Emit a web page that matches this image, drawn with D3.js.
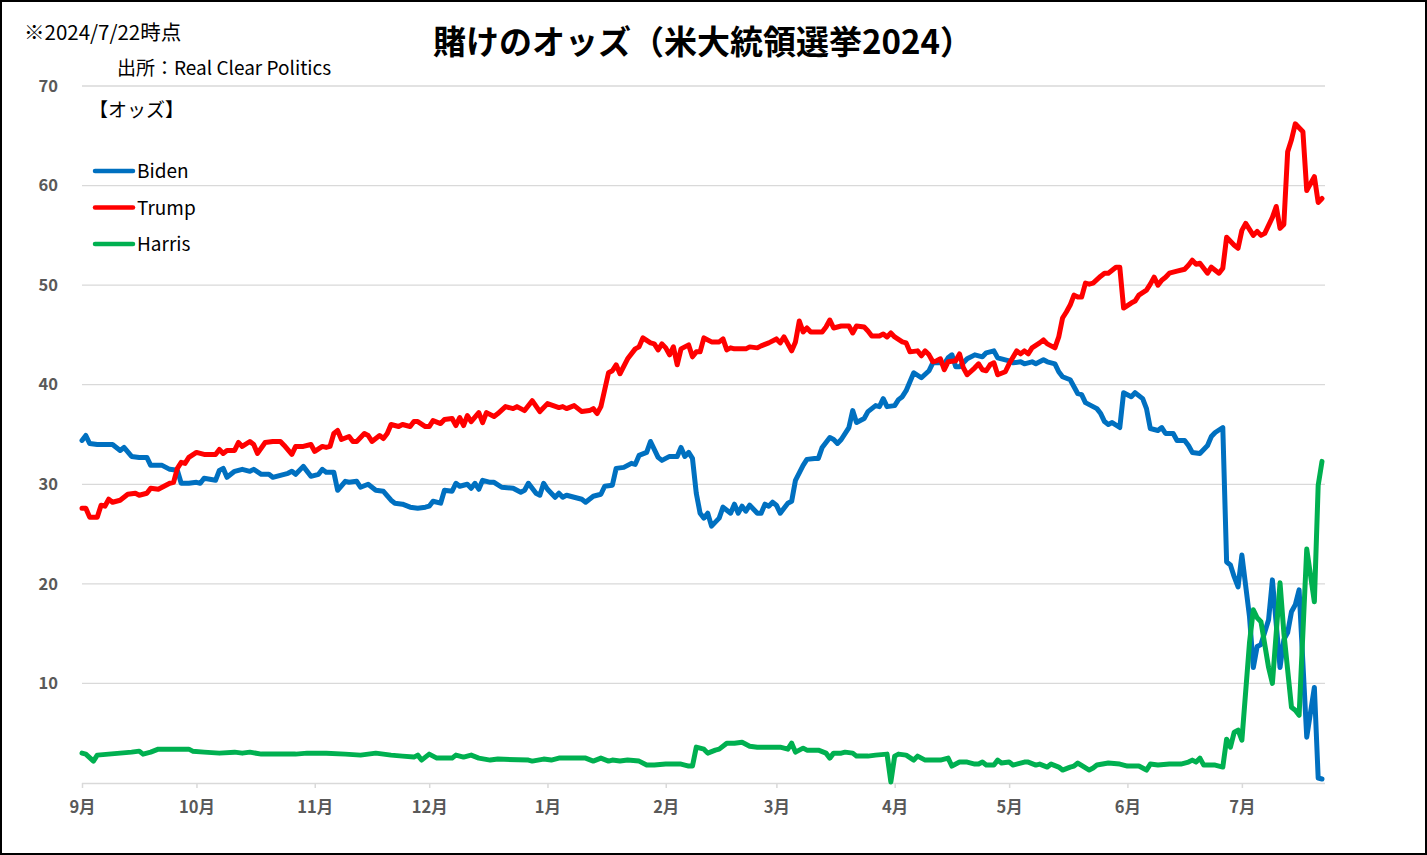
<!DOCTYPE html>
<html><head><meta charset="utf-8">
<script src="https://cdn.jsdelivr.net/npm/d3@7"></script>
<style>
html,body{margin:0;padding:0;background:#fff;}
svg{display:block;}
text{font-family:"Noto Sans CJK JP","Noto Sans",sans-serif;}
</style></head>
<body>
<svg id="chart" width="1427" height="855"></svg>
<script>
// ---- data ----
const seriesNames = ["Biden", "Trump", "Harris"];
const seriesColors = ["#0070C0", "#FF0000", "#00B050"];
const monthTicks = ["2023-09-01","2023-10-01","2023-11-01","2023-12-01","2024-01-01","2024-02-01","2024-03-01","2024-04-01","2024-05-01","2024-06-01","2024-07-01"];
const yTicks = [10, 20, 30, 40, 50, 60, 70];

const bidenDates = ["9/1","9/2","9/3","9/5","9/9","9/11","9/12","9/14","9/16","9/18","9/19","9/22","9/24","9/26","9/27","9/29",
"10/1","10/2","10/3","10/6","10/7","10/8","10/9","10/11","10/13","10/15","10/16","10/18","10/20","10/21","10/25","10/26","10/27","10/29","10/31",
"11/2","11/3","11/4","11/6","11/7","11/9","11/10","11/12","11/13","11/15","11/17","11/19","11/21","11/22","11/24","11/26","11/28","11/30",
"12/1","12/2","12/4","12/5","12/7","12/8","12/9","12/11","12/12","12/13","12/14","12/15","12/17","12/18","12/20","12/23","12/25","12/26","12/27","12/29","12/30","12/31",
"1/1","1/3","1/4","1/5","1/6","1/8","1/10","1/11","1/13","1/15","1/16","1/18","1/19","1/21","1/23","1/24","1/25","1/27","1/28","1/30","1/31",
"2/2","2/4","2/5","2/6","2/7","2/8","2/9","2/10","2/11","2/12","2/13","2/15","2/16","2/18","2/19","2/20","2/21","2/22","2/23","2/25","2/26","2/27","2/28","2/29",
"3/1","3/2","3/4","3/5","3/6","3/8","3/9","3/11","3/12","3/13","3/15","3/16","3/17","3/18","3/20","3/21","3/22","3/24","3/25","3/26","3/27","3/28","3/29","3/30",
"4/1","4/2","4/3","4/4","4/5","4/6","4/8","4/10","4/11","4/13","4/14","4/15","4/16","4/17","4/18","4/20","4/22","4/24","4/25","4/27","4/28","4/29",
"5/1","5/2","5/4","5/5","5/7","5/8","5/10","5/11","5/13","5/14","5/15","5/17","5/18","5/19","5/20","5/21","5/22","5/24","5/25","5/26","5/27","5/28","5/30","5/31",
"6/2","6/3","6/5","6/6","6/7","6/9","6/10","6/11","6/13","6/14","6/16","6/17","6/18","6/20","6/22","6/23","6/24","6/26","6/27","6/28","6/29","6/30",
"7/1","7/3","7/4","7/5","7/6","7/8","7/9","7/11","7/12","7/13","7/14","7/15","7/16","7/18","7/20","7/21","7/22"];
const bidenValues = [34.4,34.9,34.1,34.0,34.0,33.4,33.7,32.8,32.7,32.7,31.9,31.9,31.5,31.4,30.1,30.1,
30.2,30.1,30.6,30.4,31.4,31.6,30.7,31.3,31.5,31.3,31.5,31.0,31.0,30.7,31.1,31.3,31.0,31.8,30.8,
31.0,31.5,31.2,31.2,29.4,30.3,30.2,30.3,29.7,30.0,29.4,29.3,28.4,28.1,28.0,27.7,27.6,27.7,
27.8,28.3,28.1,29.4,29.3,30.1,29.8,30.0,29.6,30.1,29.5,30.4,30.2,30.2,29.7,29.6,29.2,29.4,30.1,29.1,28.9,30.1,
29.5,28.7,29.1,28.7,28.9,28.7,28.5,28.2,28.8,29.0,29.8,29.9,31.6,31.7,32.1,32.0,32.9,33.2,34.3,32.7,32.4,
32.8,32.8,33.7,32.8,33.2,32.6,29.1,27.1,26.6,27.1,25.8,26.6,27.7,27.1,28.0,27.1,27.8,27.3,27.9,27.1,27.1,28.0,27.8,28.2,
27.9,27.1,28.1,28.3,30.4,31.9,32.5,32.6,32.6,33.7,34.7,34.5,34.1,34.5,35.7,37.4,36.2,36.6,37.3,37.6,37.9,37.8,38.6,37.8,
37.9,38.5,38.8,39.4,40.3,41.2,40.7,41.4,42.2,42.2,42.1,42.7,43.0,41.8,41.8,42.6,43.0,42.8,43.2,43.4,42.7,42.6,
42.4,42.2,42.3,42.1,42.3,42.1,42.5,42.3,42.1,41.3,40.8,40.5,39.8,39.1,39.0,38.2,38.0,37.6,37.1,36.3,36.0,36.2,35.7,39.2,
38.8,39.2,38.6,37.6,35.6,35.4,35.7,35.1,35.1,34.4,34.4,33.9,33.2,33.1,33.9,34.8,35.2,35.7,22.2,21.9,20.7,19.7,
22.9,16.7,11.6,13.7,13.9,16.4,20.4,11.6,14.4,15.1,17.2,17.9,19.4,4.6,9.6,0.5,0.4];

const trumpDates = ["9/1","9/2","9/3","9/5","9/6","9/7","9/8","9/9","9/11","9/13","9/15","9/16","9/18","9/19","9/21","9/22","9/24","9/25","9/26","9/27","9/28","9/29",
"10/1","10/3","10/6","10/7","10/8","10/9","10/11","10/12","10/13","10/15","10/16","10/17","10/19","10/21","10/23","10/24","10/26","10/27","10/29","10/31",
"11/1","11/3","11/4","11/5","11/6","11/7","11/8","11/10","11/11","11/12","11/14","11/15","11/16","11/18","11/19","11/20","11/21","11/23","11/24","11/26","11/27","11/28","11/30",
"12/1","12/2","12/4","12/5","12/7","12/8","12/9","12/10","12/11","12/12","12/14","12/15","12/16","12/18","12/19","12/21","12/23","12/24","12/26","12/28","12/30",
"1/1","1/4","1/5","1/6","1/8","1/10","1/12","1/13","1/14","1/15","1/16","1/17","1/18","1/19","1/20","1/22","1/24","1/25","1/26","1/28","1/29","1/30","1/31",
"2/1","2/2","2/3","2/4","2/5","2/7","2/8","2/9","2/10","2/11","2/13","2/15","2/16","2/17","2/18","2/19","2/22","2/23","2/25","2/26","2/28",
"3/1","3/2","3/3","3/5","3/6","3/7","3/8","3/9","3/10","3/13","3/14","3/15","3/16","3/18","3/20","3/21","3/22","3/24","3/25","3/26","3/28","3/29","3/30","3/31",
"4/1","4/3","4/4","4/5","4/7","4/8","4/9","4/10","4/11","4/12","4/13","4/14","4/15","4/17","4/18","4/19","4/20","4/22","4/23","4/24","4/25","4/26","4/27","4/28","4/30",
"5/1","5/3","5/4","5/5","5/6","5/7","5/9","5/10","5/11","5/13","5/14","5/15","5/16","5/17","5/18","5/19","5/20","5/21","5/22","5/23","5/25","5/26","5/27","5/28","5/29","5/30","5/31",
"6/2","6/3","6/4","6/6","6/7","6/8","6/9","6/10","6/11","6/12","6/14","6/16","6/17","6/18","6/19","6/20","6/22","6/23","6/25","6/26","6/27","6/29","6/30",
"7/1","7/2","7/4","7/5","7/6","7/7","7/9","7/10","7/11","7/12","7/13","7/14","7/15","7/17","7/18","7/20","7/21","7/22"];
const trumpValues = [27.6,27.6,26.7,26.7,27.9,27.8,28.5,28.2,28.4,29.0,29.1,28.9,29.1,29.6,29.5,29.7,30.1,30.2,31.6,32.2,32.1,32.7,
33.2,33.0,33.0,33.5,33.1,33.4,33.4,34.2,33.8,34.3,34.0,33.1,34.2,34.3,34.3,33.9,33.0,33.8,33.8,34.0,
33.3,33.8,33.7,33.8,35.1,35.4,34.5,34.8,34.3,34.3,35.1,34.9,34.3,34.9,34.6,35.1,36.0,35.8,36.0,35.8,36.3,36.3,35.8,
35.8,36.4,36.1,36.5,36.6,35.9,36.7,35.9,36.9,36.3,37.2,36.2,37.2,36.8,37.1,37.8,37.6,37.8,37.4,38.4,37.3,
38.1,37.7,37.8,37.6,37.9,37.3,37.4,37.6,37.1,37.8,39.5,41.2,41.4,42.0,41.1,42.6,43.6,43.8,44.7,44.2,44.1,43.5,44.1,
43.7,43.0,43.8,42.0,43.6,44.0,42.8,43.3,43.3,44.7,44.3,44.3,44.6,43.5,43.7,43.6,43.6,43.8,43.7,43.9,44.2,
44.6,44.2,44.8,43.4,44.3,46.4,45.3,45.7,45.3,45.3,45.8,46.5,45.7,45.9,45.9,45.2,45.9,45.8,45.4,44.9,44.9,45.1,44.8,45.2,
44.8,44.3,44.2,43.3,43.4,42.9,43.4,43.0,42.3,42.4,42.6,41.5,42.3,42.4,43.1,41.7,41.0,41.7,42.1,41.5,41.4,42.0,42.2,41.0,41.3,
42.1,43.4,43.1,43.4,43.1,43.7,44.2,44.5,44.1,43.7,44.8,46.7,47.3,48.0,49.0,48.8,48.8,50.2,50.1,50.2,50.9,51.2,51.2,51.5,51.8,51.8,47.7,
48.2,48.4,49.0,49.5,50.1,50.8,50.0,50.5,50.8,51.2,51.4,51.6,52.0,52.5,52.1,52.2,51.2,51.8,51.2,51.7,54.8,54.0,53.7,
55.5,56.2,55.0,55.4,55.0,55.2,56.8,57.9,55.7,56.1,63.4,64.6,66.2,65.4,59.5,60.9,58.3,58.7];

const harrisDates = ["9/1","9/2","9/4","9/5","9/8","9/11","9/14","9/16","9/17","9/19","9/21","9/29","9/30",
"10/3","10/7","10/11","10/13","10/15","10/18","10/27","10/30",
"11/4","11/9","11/13","11/17","11/21","11/24","11/27","11/28","11/29",
"12/1","12/3","12/7","12/8","12/10","12/12","12/14","12/17","12/19","12/27","12/28","12/31",
"1/2","1/4","1/11","1/13","1/15","1/17","1/18","1/20","1/22","1/25","1/27","1/29",
"2/1","2/5","2/7","2/8","2/9","2/11","2/12","2/14","2/15","2/17","2/19","2/21","2/23","2/25",
"3/2","3/4","3/5","3/6","3/8","3/9","3/12","3/14","3/15","3/16","3/18","3/19","3/21","3/22","3/25","3/27","3/30","3/31",
"4/1","4/2","4/4","4/6","4/7","4/9","4/13","4/15","4/16","4/18","4/20","4/22","4/23","4/24","4/25","4/27","4/28","4/29",
"5/1","5/2","5/5","5/6","5/8","5/9","5/11","5/12","5/14","5/15","5/17","5/18","5/19","5/22","5/23","5/24","5/27","5/30",
"6/1","6/4","6/6","6/7","6/9","6/12","6/15","6/17","6/18","6/19","6/20","6/21","6/24","6/26","6/27","6/28","6/29","6/30",
"7/1","7/3","7/4","7/5","7/6","7/8","7/9","7/11","7/12","7/14","7/15","7/16","7/18","7/20","7/21","7/22"];
const harrisValues = [3.0,2.9,2.2,2.8,2.9,3.0,3.1,3.2,2.9,3.1,3.4,3.4,3.2,
3.1,3.0,3.1,3.0,3.1,2.9,2.9,3.0,
3.0,2.9,2.8,3.0,2.8,2.7,2.6,2.8,2.3,
2.9,2.5,2.5,2.8,2.6,2.8,2.5,2.3,2.4,2.3,2.2,2.4,
2.3,2.5,2.5,2.2,2.5,2.2,2.3,2.2,2.3,2.2,1.8,1.8,
1.9,1.9,1.7,1.7,3.6,3.4,3.0,3.3,3.4,4.0,4.0,4.1,3.7,3.6,
3.6,3.4,4.0,3.1,3.5,3.3,3.3,3.0,2.5,3.0,3.0,3.1,3.0,2.7,2.7,2.8,2.9,0.1,
2.7,2.9,2.8,2.3,2.7,2.3,2.3,2.5,1.7,2.1,2.1,1.9,1.9,2.1,1.8,1.8,2.3,2.0,
2.1,1.8,2.1,2.1,1.8,1.9,1.6,1.9,1.6,1.3,1.6,1.7,2.0,1.3,1.5,1.8,2.0,1.9,
1.7,1.7,1.3,1.9,1.8,1.9,1.9,2.1,2.3,2.1,2.5,1.8,1.8,1.6,4.4,3.6,5.1,5.3,
4.3,14.1,17.4,16.6,16.2,11.6,10.0,20.1,15.1,7.6,7.3,6.8,23.5,18.2,29.9,32.3];

// ---- helpers ----
function parseMD(s) {
  const [m, d] = s.split("/").map(Number);
  return new Date(m >= 9 ? 2023 : 2024, m - 1, d);
}
const seriesDates = [bidenDates, trumpDates, harrisDates];
const seriesValues = [bidenValues, trumpValues, harrisValues];
const series = seriesNames.map((name, i) => ({
  name, color: seriesColors[i],
  points: seriesDates[i].map((d, j) => ({ date: parseMD(d), value: seriesValues[i][j] }))
}));

// ---- layout ----
const svg = d3.select("#chart");
const W = 1427, H = 855;
const plot = { left: 82, right: 1322, top: 86, bottom: 783, gridRight: 1325 };

svg.append("rect").attr("x", 1).attr("y", 1).attr("width", W - 2).attr("height", H - 2)
  .attr("fill", "#fff").attr("stroke", "#000").attr("stroke-width", 2);

const x = d3.scaleTime()
  .domain([new Date(2023, 8, 1), new Date(2024, 6, 22)])
  .range([plot.left, plot.right]);
const y = d3.scaleLinear().domain([0, 70]).range([plot.bottom, plot.top]);

// gridlines
svg.append("g").selectAll("line").data(yTicks).join("line")
  .attr("x1", plot.left).attr("x2", plot.gridRight)
  .attr("y1", d => y(d)).attr("y2", d => y(d))
  .attr("stroke", "#d9d9d9").attr("stroke-width", 1.3);

// y axis labels
const yAxis = d3.axisLeft(y).tickValues(yTicks).tickSize(0).tickPadding(24);
const gy = svg.append("g").attr("transform", `translate(${plot.left},0)`).call(yAxis);
gy.select(".domain").remove();
gy.selectAll("text").attr("font-family", "'Noto Sans CJK JP', sans-serif")
  .attr("font-size", 16.5).attr("font-weight", "bold").attr("fill", "#595959");

// x axis
const xAxis = d3.axisBottom(x)
  .tickValues(monthTicks.map(s => new Date(s + "T00:00:00")))
  .tickFormat(d => (d.getMonth() + 1) + "月")
  .tickSize(5).tickSizeOuter(0).tickPadding(13);
const gx = svg.append("g").attr("transform", `translate(0,${plot.bottom})`).call(xAxis);
gx.select(".domain").attr("d", `M${plot.left},0.5H${plot.gridRight}`).attr("stroke", "#d9d9d9").attr("stroke-width", 1.5);
gx.selectAll(".tick line").attr("stroke", "#d9d9d9").attr("stroke-width", 1.5);
gx.selectAll("text").attr("font-family", "'Noto Sans CJK JP', sans-serif")
  .attr("font-size", 16.5).attr("font-weight", "bold").attr("fill", "#595959");

// series lines
const line = d3.line().x(d => x(d.date)).y(d => y(d.value));
svg.append("g").selectAll("path").data(series).join("path")
  .attr("d", d => line(d.points))
  .attr("fill", "none").attr("stroke", d => d.color)
  .attr("stroke-width", 5).attr("stroke-linejoin", "round").attr("stroke-linecap", "round");

// title and notes
svg.append("text").attr("x", 703).attr("y", 54).attr("text-anchor", "middle")
  .attr("font-size", 33).attr("font-weight", "bold").attr("fill", "#000")
  .text("賭けのオッズ（米大統領選挙2024）");
svg.append("text").attr("x", 24).attr("y", 40).attr("font-size", 20.5).attr("fill", "#000")
  .text("※2024/7/22時点");
svg.append("text").attr("x", 117).attr("y", 75).attr("font-size", 19).attr("fill", "#000")
  .text("出所：Real Clear Politics");
svg.append("text").attr("x", 89).attr("y", 117).attr("font-size", 19).attr("fill", "#000")
  .text("【オッズ】");

// legend
const lg = svg.append("g").selectAll("g").data(series).join("g")
  .attr("transform", (d, i) => `translate(95,${171 + i * 36.5})`);
lg.append("line").attr("x1", 0).attr("x2", 38).attr("y1", 0).attr("y2", 0)
  .attr("stroke", d => d.color).attr("stroke-width", 4.5).attr("stroke-linecap", "round");
lg.append("text").attr("x", 42).attr("y", 7).attr("font-size", 19).attr("fill", "#000")
  .text(d => d.name);
</script>
</body></html>
